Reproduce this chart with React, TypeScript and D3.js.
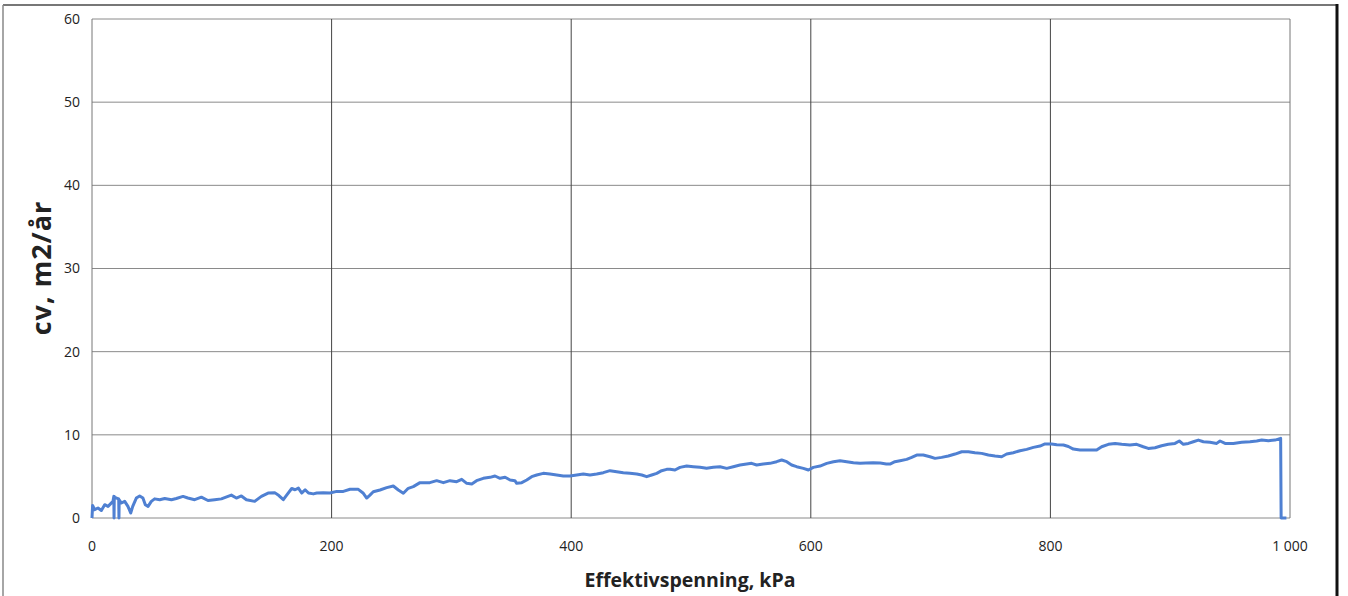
import React from "react";
import * as d3 from "d3";

const xTicks = [0, 200, 400, 600, 800, 1000];
const yTicks = [0, 10, 20, 30, 40, 50, 60];
const xTickLabels = ["0", "200", "400", "600", "800", "1 000"];

const kpa = [
  0, 0.5, 2.2, 5, 7.8, 10.6, 13.4, 17.5, 18.2, 18.4, 18.6, 18.8, 20.5, 22.3, 22.5, 22.7, 24.5, 27.3, 30, 32.3, 34, 37, 39.8, 42.5, 44.5, 46.8, 49.5,
  52.3, 56.5, 60.7, 66.3, 70.4, 76, 80, 85.7, 91.3, 96.8, 102.4, 108, 116.3, 120.5, 124.7, 128.9, 135.8, 141.4, 147, 152.5, 156, 159.7,
  162.5, 166.7, 169.5, 172.3, 175, 177.9, 180.7, 184.8, 187.6, 193, 198.6, 204.3, 209.8, 215.4, 222.3, 226.5, 229.3, 232, 234.8, 240.4,
  246, 251.5, 255.7, 259.9, 264, 268.2, 273.8, 282, 287.7, 293.3, 298.8, 304.4, 308.6, 312.8, 317, 321, 326.6, 332.2, 336.4, 340.6,
  344.8, 349, 353, 354.5, 358.7, 362.9, 367, 371.2, 376.7, 382.3, 387.9, 393.4, 399, 404.6, 410.1, 415.7, 421.3, 426.8, 432.4, 438,
  443.5, 449, 454.7, 458.9, 463, 467.2, 471.4, 475.5, 479.7, 482.5, 486.6, 490.8, 496.4, 501.9, 507.5, 513, 518.6, 524.2, 529.8, 535.3,
  540.9, 546.5, 550.6, 554.8, 560.3, 565.9, 571.5, 575.7, 579.9, 584, 588.2, 593.8, 598, 602.1, 607.7, 613.3, 618.9, 624.4, 630, 635.6,
  641.1, 646, 652, 658, 663, 666.1, 670.2, 674.5, 680, 684.2, 688.4, 693.9, 699.5, 703.7, 709.2, 714.8, 720.4, 726, 731.5, 737, 742.6,
  748.2, 753.8, 759.3, 763.5, 769, 774.6, 780.2, 785.8, 791.3, 795.5, 801, 805.3, 810.9, 815, 819.1, 824.7, 830.3, 838.6, 842.8, 848.4,
  854, 859.5, 866.4, 872, 877.5, 881.7, 887.3, 892.8, 898.4, 904, 907.6, 911, 915.2, 919.3, 923.5, 927.7, 933.2, 938.8, 941.6, 945.8,
  952.7, 959.7, 966.6, 972.2, 976.4, 982, 987.5, 992.2, 992.6, 997,
];
const cv = [
  0, 1.5, 1.0, 1.2, 0.9, 1.6, 1.4, 2.0, 2.6, 0, 2.6, 2.5, 2.4, 2.3, 0, 2.2, 1.8, 2.0, 1.4, 0.6, 1.4, 2.4, 2.65, 2.4, 1.6, 1.4, 2.0,
  2.3, 2.2, 2.35, 2.2, 2.35, 2.6, 2.4, 2.2, 2.5, 2.1, 2.2, 2.3, 2.75, 2.4, 2.65, 2.2, 2.0, 2.6, 3.0, 3.05, 2.7, 2.2,
  2.75, 3.55, 3.4, 3.6, 3.0, 3.4, 3.0, 2.9, 3.0, 3.05, 3.0, 3.2, 3.2, 3.45, 3.45, 2.97, 2.4, 2.75, 3.15, 3.37,
  3.65, 3.85, 3.37, 2.97, 3.57, 3.77, 4.25, 4.25, 4.49, 4.25, 4.49, 4.37, 4.65, 4.17, 4.1, 4.49, 4.77, 4.89, 5.05, 4.77,
  4.9, 4.57, 4.49, 4.17, 4.25, 4.57, 4.97, 5.17, 5.37, 5.29, 5.17, 5.05, 5.05, 5.17, 5.29, 5.17, 5.29, 5.45, 5.69, 5.57,
  5.45, 5.37, 5.29, 5.17, 4.97, 5.17, 5.37, 5.69, 5.85, 5.85, 5.77, 6.09, 6.25, 6.17, 6.09, 5.97, 6.09, 6.17, 5.97, 6.17,
  6.37, 6.49, 6.57, 6.37, 6.49, 6.57, 6.77, 6.97, 6.77, 6.37, 6.17, 5.97, 5.77, 6.09, 6.25, 6.57, 6.77, 6.89, 6.77, 6.65,
  6.57, 6.6, 6.65, 6.6, 6.5, 6.49, 6.77, 6.89, 7.05, 7.29, 7.57, 7.57, 7.37, 7.17, 7.29, 7.45, 7.69, 7.97, 7.97, 7.85, 7.77,
  7.57, 7.45, 7.37, 7.69, 7.85, 8.09, 8.25, 8.49, 8.65, 8.9, 8.9, 8.8, 8.77, 8.6, 8.29, 8.17, 8.17, 8.17, 8.57, 8.86,
  8.97, 8.86, 8.77, 8.86, 8.57, 8.37, 8.45, 8.69, 8.86, 8.97, 9.26, 8.86, 8.97, 9.17, 9.37, 9.17, 9.1, 8.97, 9.26, 8.97,
  8.97, 9.1, 9.17, 9.26, 9.37, 9.3, 9.37, 9.57, 0, 0,
];

const W = 1348;
const H = 596;
const left = 92;
const right = 1290;
const top = 19;
const bottom = 518;

export default function App() {
  const x = d3.scaleLinear().domain([0, 1000]).range([left, right]);
  const y = d3.scaleLinear().domain([0, 60]).range([bottom, top]);
  const pts = kpa.map((k, i) => [k, cv[i]] as [number, number]);
  const line = d3
    .line<[number, number]>()
    .x((d) => x(d[0]))
    .y((d) => y(d[1]));
  const font = "'Open Sans', 'Liberation Sans', sans-serif";
  return (
    <svg
      width={W}
      height={H}
      style={{ position: "absolute", left: 0, top: 0, background: "#fff" }}
    >
      {/* outer frame */}
      <line x1={3} x2={1337} y1={5} y2={5} stroke="#777" strokeWidth={2} />
      <line x1={3} x2={3} y1={5} y2={H} stroke="#888" strokeWidth={1.5} />
      <line x1={1337} x2={1337} y1={4} y2={H} stroke="#111" strokeWidth={3} />

      {/* horizontal gridlines */}
      {yTicks.map((t) => (
        <line key={"h" + t} x1={left} x2={right} y1={y(t)} y2={y(t)} stroke="#8a8a8a" strokeWidth={1} />
      ))}
      {/* vertical gridlines */}
      {xTicks.map((t) => (
        <line key={"v" + t} x1={x(t)} x2={x(t)} y1={top} y2={bottom} stroke={t === 0 || t === 1000 ? "#777" : "#444"} strokeWidth={1} />
      ))}

      {/* y tick labels */}
      {yTicks.map((t) => (
        <text key={"yl" + t} x={80} y={y(t)} dy="0.35em" textAnchor="end" fontSize={14} fill="#222" fontFamily={font}>
          {t}
        </text>
      ))}
      {/* x tick labels */}
      {xTicks.map((t, i) => (
        <text key={"xl" + t} x={x(t)} y={546} dy="0.35em" textAnchor="middle" fontSize={14} fill="#222" fontFamily={font}>
          {xTickLabels[i]}
        </text>
      ))}

      {/* data line */}
      <path d={line(pts) || ""} fill="none" stroke="#4f80d2" strokeWidth={3} strokeLinejoin="round" />

      {/* axis titles */}
      <text
        transform={`translate(42, 268) rotate(-90)`}
        textAnchor="middle"
        dy="0.35em"
        fontSize={27}
        fontWeight="bold"
        letterSpacing={1}
        fill="#222"
        fontFamily={font}
      >
        cv, m2/år
      </text>
      <text x={690} y={580} dy="0.35em" textAnchor="middle" fontSize={19.5} fontWeight="bold" fill="#222" fontFamily={font}>
        Effektivspenning, kPa
      </text>
    </svg>
  );
}
